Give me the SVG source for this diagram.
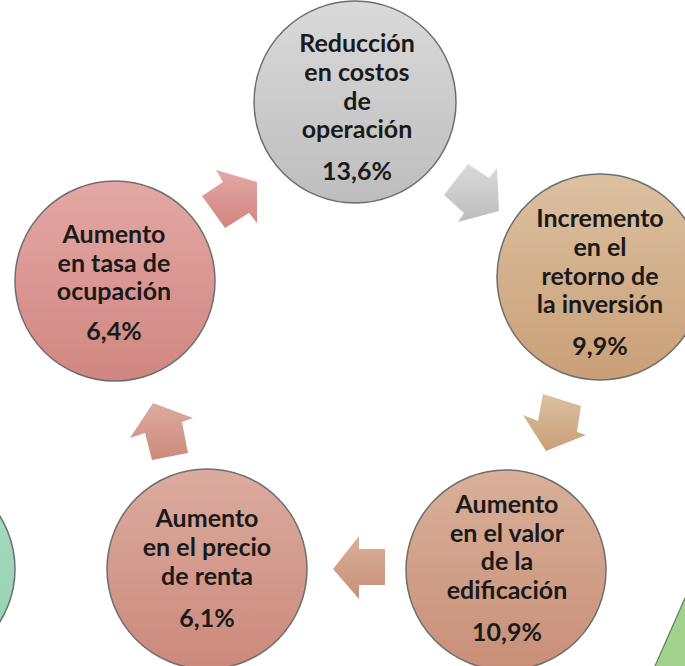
<svg xmlns="http://www.w3.org/2000/svg" width="685" height="666" viewBox="0 0 685 666">
<defs>
<linearGradient id="gGray" x1="0" y1="0" x2="0" y2="1"><stop offset="0" stop-color="#dadada"/><stop offset="1" stop-color="#bdbdbd"/></linearGradient>
<linearGradient id="gTan" x1="0" y1="0" x2="0" y2="1"><stop offset="0" stop-color="#dcc0a0"/><stop offset="1" stop-color="#c99f77"/></linearGradient>
<linearGradient id="gBrown" x1="0" y1="0" x2="0" y2="1"><stop offset="0" stop-color="#d9b09a"/><stop offset="1" stop-color="#c98f77"/></linearGradient>
<linearGradient id="gRose" x1="0" y1="0" x2="0" y2="1"><stop offset="0" stop-color="#dcab9f"/><stop offset="1" stop-color="#cb897b"/></linearGradient>
<linearGradient id="gPink" x1="0" y1="0" x2="0" y2="1"><stop offset="0" stop-color="#e3a8a5"/><stop offset="1" stop-color="#d18680"/></linearGradient>
<linearGradient id="gTeal" x1="0" y1="0" x2="0" y2="1"><stop offset="0" stop-color="#a9dcc2"/><stop offset="1" stop-color="#92cfb0"/></linearGradient>
</defs>
<style>
.c{stroke:#6e6e6e;stroke-width:1.5}
.t{font-family:Lato,"Liberation Sans",sans-serif;font-weight:bold;font-size:25px;fill:#1a1a1a;text-anchor:middle}
</style>
<g id="deco">
<circle cx="-85" cy="569" r="100" fill="url(#gTeal)" class="c"/>
<polygon points="685,598 655,666 685,666" fill="#a3d18e"/>
<line x1="685" y1="598" x2="655" y2="666" stroke="#5f7f55" stroke-width="1.2"/>
</g>
<g id="connectors">
<polygon points="216,170 257,182 257,223 249,213 225,228 202,196 223,182" fill="url(#gPink)"/>
<polygon points="468,164 489,178 497,168 499,211 458,222 464,213 444,195" fill="url(#gGray)"/>
<polygon points="543,394 581,406 577,432 586,435 546,451 523,415 538,421" fill="url(#gTan)"/>
<polygon points="385,549 385,585 359,585 359,599 333,569 359,536 359,549" fill="url(#gBrown)"/>
<polygon points="153,403 193,418 182,422 188,453 152,460 145,433 130,438" fill="url(#gRose)"/>
</g>
<g id="n1">
<circle cx="355" cy="102" r="101" fill="url(#gGray)" class="c"/>
<text class="t" x="357" y="52">Reducción</text>
<text class="t" x="357" y="81">en costos</text>
<text class="t" x="357" y="110">de</text>
<text class="t" x="357" y="138">operación</text>
<text class="t" x="357" y="180">13,6%</text>
</g>
<g id="n2">
<circle cx="600" cy="277" r="103" fill="url(#gTan)" class="c"/>
<text class="t" x="600" y="227">Incremento</text>
<text class="t" x="600" y="256">en el</text>
<text class="t" x="600" y="285">retorno de</text>
<text class="t" x="600" y="313">la inversión</text>
<text class="t" x="600" y="355">9,9%</text>
</g>
<g id="n3">
<circle cx="506" cy="570" r="100" fill="url(#gBrown)" class="c"/>
<text class="t" x="507" y="513">Aumento</text>
<text class="t" x="507" y="542">en el valor</text>
<text class="t" x="507" y="570">de la</text>
<text class="t" x="507" y="599">edificación</text>
<text class="t" x="507" y="641">10,9%</text>
</g>
<g id="n4">
<circle cx="207" cy="569" r="100" fill="url(#gRose)" class="c"/>
<text class="t" x="207" y="527">Aumento</text>
<text class="t" x="207" y="556">en el precio</text>
<text class="t" x="207" y="585">de renta</text>
<text class="t" x="207" y="627">6,1%</text>
</g>
<g id="n5">
<circle cx="115" cy="281" r="100" fill="url(#gPink)" class="c"/>
<text class="t" x="114" y="243">Aumento</text>
<text class="t" x="114" y="272">en tasa de</text>
<text class="t" x="114" y="300">ocupación</text>
<text class="t" x="114" y="340">6,4%</text>
</g>
</svg>
